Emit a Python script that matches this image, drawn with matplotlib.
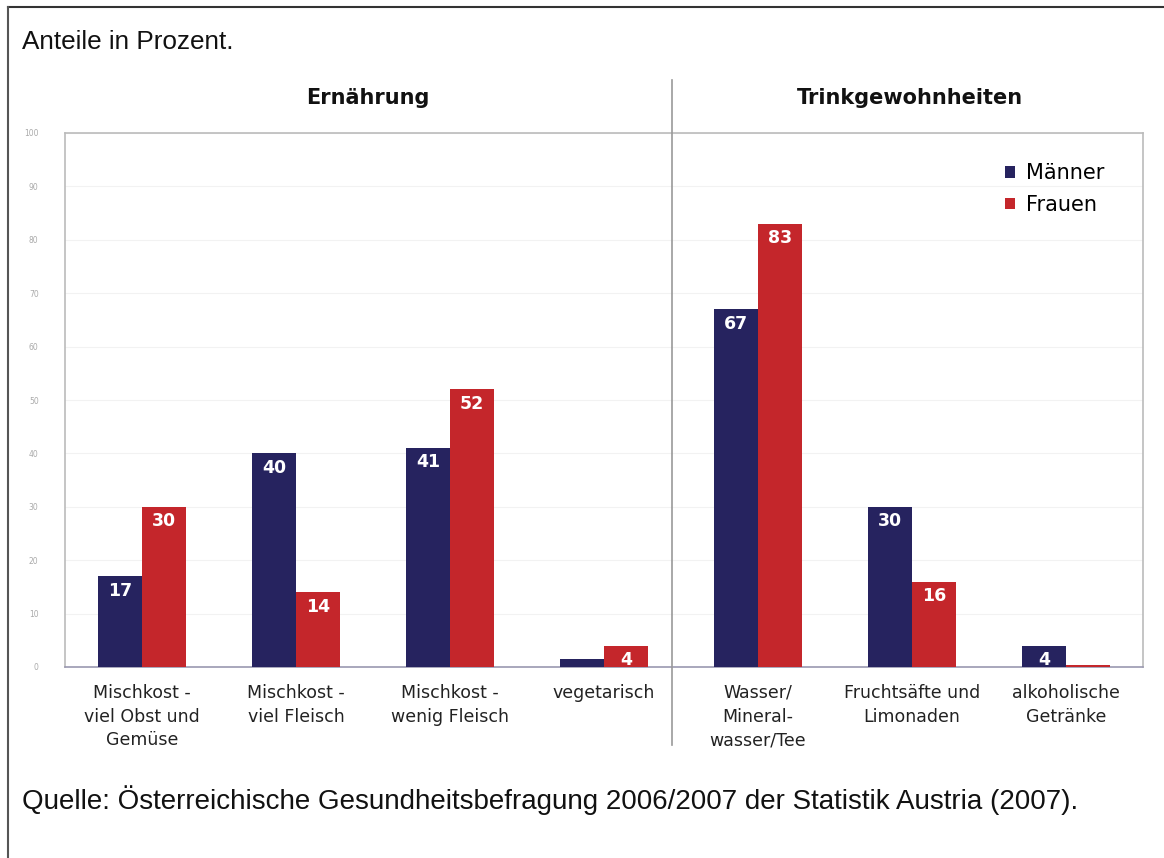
import matplotlib.pyplot as plt
import numpy as np

# Anteile in Prozent, Männer / Frauen
kategorien = [
    "Mischkost -\nviel Obst und\nGemüse",
    "Mischkost -\nviel Fleisch",
    "Mischkost -\nwenig Fleisch",
    "vegetarisch",
    "Wasser/\nMineral-\nwasser/Tee",
    "Fruchtsäfte und\nLimonaden",
    "alkoholische\nGetränke",
]
maenner = [17, 40, 41, 1.5, 67, 30, 4]
frauen = [30, 14, 52, 4, 83, 16, 0.3]
maenner_labels = ["17", "40", "41", "", "67", "30", "4"]
frauen_labels = ["30", "14", "52", "4", "83", "16", ""]
y_ticks = [0, 10, 20, 30, 40, 50, 60, 70, 80, 90, 100]

navy = "#26235f"
red = "#c4262b"

fig = plt.figure(figsize=(11.64, 8.58), dpi=100)
W, H = 1164, 858

# plot area in pixels: left 65, right 1143, top 133, bottom 667
ax = fig.add_axes([65 / W, 1 - 667 / H, (1143 - 65) / W, (667 - 133) / H])

x = np.arange(len(kategorien))
bw = 0.286
b1 = ax.bar(x - bw / 2, maenner, bw, color=navy, label="Männer", zorder=3)
b2 = ax.bar(x + bw / 2, frauen, bw, color=red, label="Frauen", zorder=3)

for bars, labels in ((b1, maenner_labels), (b2, frauen_labels)):
    for rect, lab in zip(bars, labels):
        if not lab:
            continue
        h = rect.get_height()
        ax.text(rect.get_x() + rect.get_width() / 2, h - 1.0, lab,
                ha="center", va="top", color="white", fontsize=12.5,
                fontweight="bold", family="DejaVu Sans", zorder=4)

ax.set_xlim(-0.5, len(kategorien) - 0.5)
ax.set_ylim(0, 100)
ax.set_yticks(y_ticks)
ax.set_yticklabels([str(t) for t in y_ticks], fontsize=5.5, color="#aaaaaa")
ax.tick_params(axis="y", length=0, pad=19)
ax.tick_params(axis="x", length=0, pad=12)
ax.set_xticks(x)
ax.set_xticklabels(kategorien, fontsize=12.5, color="#222222", linespacing=1.42)
ax.grid(axis="y", color="#f2f2f2", lw=0.8, zorder=0)

for side in ("left", "top", "right"):
    ax.spines[side].set_color("#bbbbbb")
    ax.spines[side].set_linewidth(1.2)
ax.spines["bottom"].set_color("#9a98b0")
ax.spines["bottom"].set_linewidth(1.2)

leg = ax.legend(loc="upper left", bbox_to_anchor=(921 / 1078, 0.978), frameon=False,
                fontsize=15, handlelength=0.5, handleheight=0.5,
                handletextpad=0.5, labelspacing=0.55)

# divider between the two sections
fig.add_artist(plt.Line2D([672 / W, 672 / W], [1 - 80 / H, 1 - 745 / H],
                          color="#999999", lw=1.2))

# section headers
fig.text(368 / W, 1 - 98 / H, "Ernährung", ha="center", va="center",
         fontsize=15, fontweight="bold", color="#111111")
fig.text(910 / W, 1 - 98 / H, "Trinkgewohnheiten", ha="center", va="center",
         fontsize=15, fontweight="bold", color="#111111")

# surrounding text
fig.text(22 / W, 1 - 42 / H, "Anteile in Prozent.", ha="left", va="center",
         fontsize=18.8, family="Liberation Sans", color="#111111")
fig.text(22 / W, 1 - 800 / H,
         "Quelle: Österreichische Gesundheitsbefragung 2006/2007 der Statistik Austria (2007).",
         ha="left", va="center", fontsize=20, family="Liberation Sans",
         color="#111111")

# frame lines (top and left)
fig.add_artist(plt.Line2D([8 / W, 1.0], [1 - 7 / H, 1 - 7 / H], color="#333333", lw=1.5))
fig.add_artist(plt.Line2D([8 / W, 8 / W], [1 - 7 / H, 0.0], color="#555555", lw=1.5))

fig.savefig("out.png", dpi=100)
